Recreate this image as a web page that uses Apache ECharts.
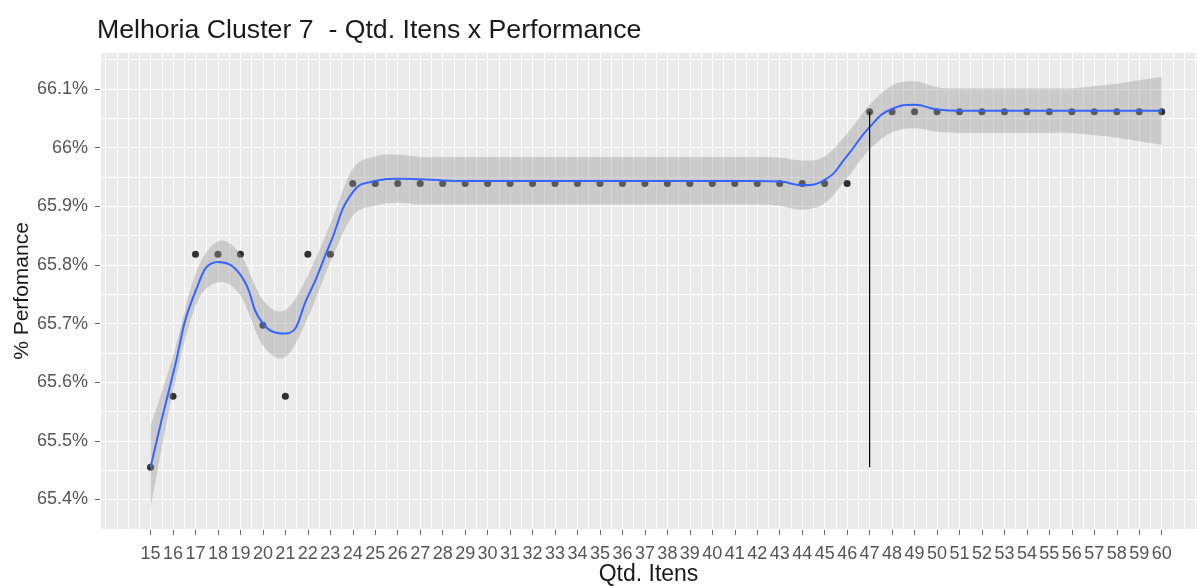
<!DOCTYPE html>
<html>
<head>
<meta charset="utf-8">
<title>Melhoria Cluster 7</title>
<script src="https://cdn.jsdelivr.net/npm/echarts@6/dist/echarts.min.js"></script>
<style>
  html, body { margin: 0; padding: 0; background: #ffffff; }
  #chart { width: 1197px; height: 586px; }
</style>
</head>
<body>
<div id="chart"></div>
<script>
// Quantity of items tested for cluster 7
const itens = [15, 16, 17, 18, 19, 20, 21, 22, 23, 24, 25, 26, 27, 28, 29, 30,
  31, 32, 33, 34, 35, 36, 37, 38, 39, 40, 41, 42, 43, 44, 45, 46, 47, 48, 49, 50,
  51, 52, 53, 54, 55, 56, 57, 58, 59, 60];

// Observed performance (%)
const performance = [65.455, 65.576, 65.818, 65.818, 65.818, 65.697, 65.576, 65.818, 65.818, 65.939,
  65.939, 65.939, 65.939, 65.939, 65.939, 65.939, 65.939, 65.939, 65.939, 65.939,
  65.939, 65.939, 65.939, 65.939, 65.939, 65.939, 65.939, 65.939, 65.939, 65.939,
  65.939, 65.939, 66.061, 66.061, 66.061, 66.061, 66.061, 66.061, 66.061, 66.061,
  66.061, 66.061, 66.061, 66.061, 66.061, 66.061];

// Smoothed trend (loess) and its confidence band
const fit = [65.455, 65.614, 65.755, 65.805, 65.783, 65.700, 65.683, 65.746, 65.837, 65.924,
  65.943, 65.947, 65.946, 65.944, 65.943, 65.943, 65.943, 65.943, 65.943, 65.943,
  65.943, 65.943, 65.943, 65.943, 65.943, 65.943, 65.943, 65.943, 65.942, 65.936,
  65.945, 65.986, 66.035, 66.066, 66.073, 66.065, 66.063, 66.063, 66.063, 66.063,
  66.063, 66.063, 66.063, 66.063, 66.063, 66.063];
const fitLower = [65.385, 65.584, 65.730, 65.770, 65.748, 65.663, 65.643, 65.710, 65.805, 65.884,
  65.901, 65.906, 65.903, 65.903, 65.903, 65.903, 65.903, 65.903, 65.903, 65.903,
  65.903, 65.903, 65.903, 65.903, 65.903, 65.903, 65.903, 65.903, 65.901, 65.894,
  65.905, 65.948, 65.997, 66.026, 66.033, 66.027, 66.025, 66.025, 66.025, 66.025,
  66.025, 66.025, 66.021, 66.017, 66.011, 66.005];
const fitUpper = [65.525, 65.644, 65.785, 65.840, 65.818, 65.740, 65.723, 65.782, 65.870, 65.964,
  65.985, 65.988, 65.984, 65.984, 65.984, 65.984, 65.984, 65.984, 65.984, 65.984,
  65.984, 65.984, 65.984, 65.984, 65.984, 65.984, 65.984, 65.984, 65.983, 65.978,
  65.985, 66.024, 66.073, 66.106, 66.113, 66.103, 66.101, 66.101, 66.101, 66.101,
  66.101, 66.101, 66.105, 66.109, 66.115, 66.121];

// Item count highlighted by the vertical segment
const destaqueItens = 47;

// Axis ticks
const xTicks = itens;
const yTicks = [65.4, 65.5, 65.6, 65.7, 65.8, 65.9, 66.0, 66.1];

const X_MIN = 12.75, X_MAX = 61.57;
const Y_MIN = 65.348, Y_MAX = 66.163;

const FONT = "'Liberation Sans', Arial, sans-serif";

const pts = itens.map((x, i) => [x, performance[i]]);
const fitPts = itens.map((x, i) => [x, fit[i]]);
const segPts = [
  [destaqueItens, Math.min(...performance)],
  [destaqueItens, performance[itens.indexOf(destaqueItens)]]
];

// Smooth path through pixel points (Catmull-Rom converted to cubic Bezier)
function curveThrough(p, startCmd) {
  let d = startCmd + p[0][0] + ' ' + p[0][1];
  for (let i = 0; i < p.length - 1; i++) {
    const p0 = p[i - 1] || p[i];
    const p1 = p[i];
    const p2 = p[i + 1];
    const p3 = p[i + 2] || p2;
    const c1x = p1[0] + (p2[0] - p0[0]) / 6, c1y = p1[1] + (p2[1] - p0[1]) / 6;
    const c2x = p2[0] - (p3[0] - p1[0]) / 6, c2y = p2[1] - (p3[1] - p1[1]) / 6;
    d += ' C' + c1x + ' ' + c1y + ' ' + c2x + ' ' + c2y + ' ' + p2[0] + ' ' + p2[1];
  }
  return d;
}

function renderBand(params, api) {
  if (params.dataIndex !== 0) return null;
  const up = itens.map((x, i) => api.coord([x, fitUpper[i]]));
  const lo = itens.map((x, i) => api.coord([x, fitLower[i]])).reverse();
  const d = curveThrough(up, 'M') + ' ' + curveThrough(lo, 'L') + ' Z';
  return {
    type: 'path',
    shape: { pathData: d },
    style: { fill: 'rgba(153,153,153,0.4)', stroke: null }
  };
}

const chart = echarts.init(document.getElementById('chart'), null, { renderer: 'canvas' });

const gridLineStyle = { color: '#ffffff', width: 1 };

chart.setOption({
  animation: false,
  backgroundColor: '#ffffff',
  title: {
    text: 'Melhoria Cluster 7  - Qtd. Itens x Performance',
    left: 92,
    top: 12,
    textStyle: { fontFamily: FONT, fontSize: 26.7, fontWeight: 'normal', color: '#1a1a1a' }
  },
  grid: {
    left: 100, right: 0, top: 52, bottom: 56,
    outerBoundsMode: 'none', containLabel: false,
    show: true, backgroundColor: '#EBEBEB', borderWidth: 0
  },
  xAxis: [
    {
      type: 'value', min: X_MIN, max: X_MAX, position: 'bottom',
      axisLine: { show: false },
      axisTick: { show: true, customValues: xTicks, length: 5, lineStyle: { color: '#666', width: 1 } },
      axisLabel: {
        customValues: xTicks, margin: 15,
        fontFamily: FONT, fontSize: 18, color: '#555'
      },
      splitLine: { show: false },
      name: 'Qtd. Itens', nameLocation: 'middle', nameGap: 33, nameMoveOverlap: false,
      nameTextStyle: { fontFamily: FONT, fontSize: 23, color: '#1a1a1a' }
    },
    {
      type: 'value', min: X_MIN, max: X_MAX, splitNumber: 98, position: 'bottom',
      axisLine: { show: false }, axisTick: { show: false }, axisLabel: { show: false },
      splitLine: { show: true, lineStyle: gridLineStyle }
    }
  ],
  yAxis: [
    {
      type: 'value', min: Y_MIN, max: Y_MAX, position: 'left',
      axisLine: { show: false },
      axisTick: { show: true, customValues: yTicks, length: 5, lineStyle: { color: '#666', width: 1 } },
      axisLabel: {
        customValues: yTicks, margin: 12,
        fontFamily: FONT, fontSize: 18, color: '#555',
        formatter: v => parseFloat(v.toFixed(1)) + '%'
      },
      splitLine: { show: false },
      name: '% Perfomance', nameLocation: 'middle', nameGap: 67, nameRotate: 90, nameMoveOverlap: false,
      nameTextStyle: { fontFamily: FONT, fontSize: 21, color: '#1a1a1a' }
    },
    {
      type: 'value', min: Y_MIN, max: Y_MAX, splitNumber: 16, position: 'left',
      axisLine: { show: false }, axisTick: { show: false }, axisLabel: { show: false },
      splitLine: { show: true, lineStyle: gridLineStyle }
    }
  ],
  series: [
    {
      name: 'Performance', type: 'scatter', data: pts,
      symbol: 'circle', symbolSize: 7,
      itemStyle: { color: '#000000' }, z: 2
    },
    {
      name: 'intervalo', type: 'custom', data: fitPts,
      renderItem: renderBand, clip: true, z: 3
    },
    {
      name: 'loess', type: 'line', data: fitPts,
      smooth: true, showSymbol: false, symbol: 'none',
      lineStyle: { color: '#3366FF', width: 2 }, z: 4
    },
    {
      name: 'destaque', type: 'line', data: segPts,
      showSymbol: false, symbol: 'none',
      lineStyle: { color: '#000000', width: 1.2 }, z: 5
    }
  ]
});
</script>
</body>
</html>
